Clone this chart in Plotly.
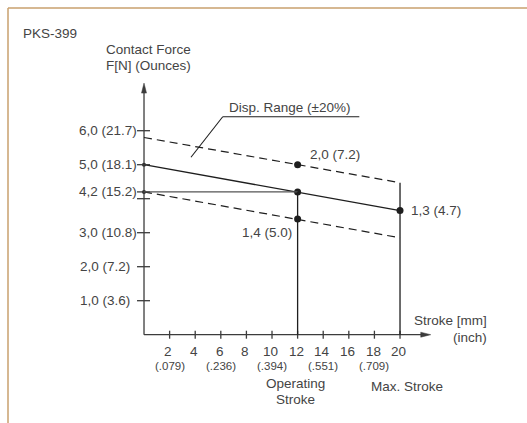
import plotly.graph_objects as go

# ---- data -------------------------------------------------------------
stroke_ticks_mm = [2, 4, 6, 8, 10, 12, 14, 16, 18, 20]
stroke_tick_labels = ["2", "4", "6", "8", "10", "12", "14", "16", "18", "20"]
inch_ticks_mm = [2, 6, 10, 14, 18]
inch_tick_labels = ["(.079)", "(.236)", "(.394)", "(.551)", "(.709)"]

force_ticks_N = [6.0, 5.0, 4.2, 4.0, 3.0, 2.0, 1.0]
force_label_vals = [6.0, 5.0, 4.2, 3.0, 2.0, 1.0]
force_tick_labels = ["6,0 (21.7)", "5,0 (18.1)", "4,2 (15.2)", "3,0 (10.8)",
                     "2,0 (7.2)", "1,0 (3.6)"]

nominal_stroke = [0, 12, 20]
nominal_force = [5.0, 4.2, 3.65]
upper_stroke = [0, 20]
upper_force = [5.8, 4.47]
lower_stroke = [0, 20]
lower_force = [4.2, 2.85]

operating_stroke = 12
max_stroke = 20
operating_force = 4.2

point_stroke = [12, 12, 20]
point_force = [5.0, 3.4, 3.65]
point_labels = ["2,0 (7.2)", "1,4 (5.0)", "1,3 (4.7)"]

# ---- figure geometry (data units) ---------------------------------------
X_RANGE = [-11.25, 29.92]
Y_RANGE = [-2.597, 9.844]
PX_X = 12.8   # pixels per mm
PX_Y = 34.0   # pixels per N

INK = "#1e1e1e"
AXIS = "#3c3c3c"
TEXT = "#444444"
FONT = "Liberation Sans"

fig = go.Figure()
shapes = []
annotations = []


def seg(x0, y0, x1, y1, color=INK, width=1.3, dash=None):
    line = dict(color=color, width=width)
    if dash:
        line["dash"] = dash
    shapes.append(dict(type="line", xref="x", yref="y", x0=x0, y0=y0,
                       x1=x1, y1=y1, line=line))


def label(text, x, y, size=13.5, xanchor="center", color=TEXT):
    annotations.append(dict(text=text, x=x, y=y, xref="x", yref="y",
                            showarrow=False, xanchor=xanchor, yanchor="middle",
                            borderpad=0,
                            font=dict(family=FONT, size=size, color=color)))


# axes with arrowheads
y_top = 7.4
x_end = 22.4
seg(0, 0, 0, y_top - 0.2, color=AXIS)
seg(0, 0, x_end - 0.6, 0, color=AXIS)
hw_x = 2.5 / PX_X
hw_y = 2.5 / PX_Y
shapes.append(dict(type="path", xref="x", yref="y",
                   path=f"M 0 {y_top} L {-hw_x} {y_top - 10 / PX_Y} L {hw_x} {y_top - 10 / PX_Y} Z",
                   fillcolor=AXIS, line=dict(color=AXIS, width=0.5)))
shapes.append(dict(type="path", xref="x", yref="y",
                   path=f"M {x_end} 0 L {x_end - 10 / PX_X} {-hw_y} L {x_end - 10 / PX_X} {hw_y} Z",
                   fillcolor=AXIS, line=dict(color=AXIS, width=0.5)))

# tick marks crossing the axes
for v in force_ticks_N:
    seg(-7 / PX_X, v, 6 / PX_X, v, color=AXIS, width=1.3)
for v in stroke_ticks_mm:
    seg(v, 4 / PX_Y, v, -4 / PX_Y, color=AXIS, width=1.3)

# force curves and tolerance band
seg(upper_stroke[0], upper_force[0], upper_stroke[1], upper_force[1], dash="8px,5px", width=1.2)
seg(lower_stroke[0], lower_force[0], lower_stroke[1], lower_force[1], dash="8px,5px", width=1.2)
fig.add_trace(go.Scatter(x=nominal_stroke, y=nominal_force, mode="lines",
                         line=dict(color=INK, width=1.3), hoverinfo="skip"))

# operating point guides
seg(0, operating_force, operating_stroke, operating_force, color="#555555", width=1.3)
seg(operating_stroke, 0, operating_stroke, operating_force, width=1.3)
seg(max_stroke, 0, max_stroke, upper_force[1], width=1.3)

# dots
fig.add_trace(go.Scatter(x=[0, 0], y=[nominal_force[0], operating_force], mode="markers",
                         marker=dict(color=INK, size=4), hoverinfo="skip"))
fig.add_trace(go.Scatter(x=[operating_stroke] + point_stroke,
                         y=[operating_force] + point_force, mode="markers",
                         marker=dict(color=INK, size=7), hoverinfo="skip"))

# leader for the tolerance band label
seg(3.67, 5.22, 6.15, 6.41, width=1.1)
seg(6.15, 6.41, 16.82, 6.41, width=1.1)
label("Disp. Range (±20%)", 11.37, 6.69)

# y tick labels
for v, t in zip(force_label_vals, force_tick_labels):
    x = -0.45 if v >= 3.0 else -0.99
    label(t, x, v, xanchor="right")

# x tick labels
for v, t in zip(stroke_ticks_mm, stroke_tick_labels):
    label(t, v - 0.1, -0.48)
for v, t in zip(inch_ticks_mm, inch_tick_labels):
    label(t, v, -0.92, size=11.5)

# point labels
label(point_labels[0], 12.89, 5.31, xanchor="left")
label(point_labels[1], 11.66, 3.0, xanchor="right")
label(point_labels[2], 20.78, 3.64, xanchor="left")

# axis titles and captions
label("PKS-399", -9.55, 8.86, xanchor="left")
label("Contact Force", -3.05, 8.39, xanchor="left")
label("F[N] (Ounces)", -3.05, 7.93, xanchor="left")
label("Stroke [mm]", 26.9, 0.41, xanchor="right")
label("(inch)", 26.9, -0.08, xanchor="right")
label("Operating", 11.8, -1.43)
label("Stroke", 11.8, -1.92)
label("Max. Stroke", 20.53, -1.51)

# page frame (top and left edges)
fx = 8 / 527
fy = 1 - 8 / 423
frame = dict(color="#c9a06e", width=1.5)
shapes.append(dict(type="line", xref="paper", yref="paper", x0=fx, y0=fy, x1=1, y1=fy, line=frame))
shapes.append(dict(type="line", xref="paper", yref="paper", x0=fx, y0=fy, x1=fx, y1=0, line=frame))

fig.update_layout(
    width=527, height=423, autosize=False,
    margin=dict(l=0, r=0, t=0, b=0),
    paper_bgcolor="white", plot_bgcolor="white",
    showlegend=False,
    xaxis=dict(range=X_RANGE, visible=False, fixedrange=True),
    yaxis=dict(range=Y_RANGE, visible=False, fixedrange=True),
    shapes=shapes, annotations=annotations,
)

fig.write_html("out.html", config={"displayModeBar": False})
